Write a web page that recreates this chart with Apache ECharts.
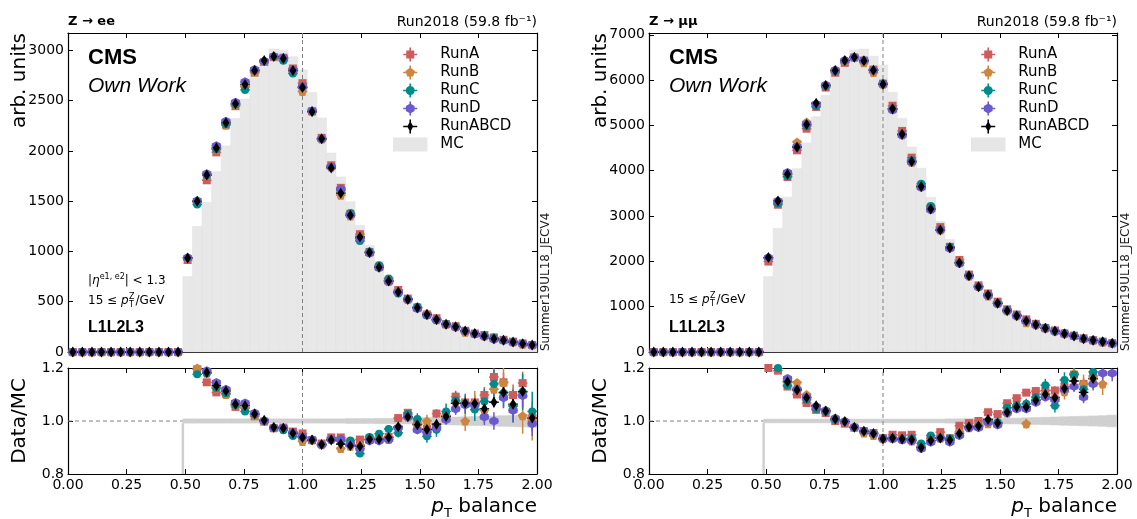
<!DOCTYPE html>
<html>
<head>
<meta charset="utf-8">
<title>pT balance, Run2018</title>
<script src="https://cdn.jsdelivr.net/npm/echarts@6/dist/echarts.min.js"></script>
<style>
html, body { margin: 0; padding: 0; background: #fff; }
#chart { width: 1137px; height: 519px; }
</style>
</head>
<body>
<div id="chart"></div>
<script>
// binning: 49 bins between 0 and 2, the first 12 bins are empty
const nBins = 49
const xMax = 2
const firstBin = 12
const binWidth = xMax / nBins
const runNames = ['RunA', 'RunB', 'RunC', 'RunD', 'RunABCD']

// ---- Z -> ee (left), values from bin 12 on ----
const mcL = [750, 1248, 1490, 1792, 2050, 2322, 2516, 2729, 2891, 3014, 3002, 2937, 2806, 2580, 2328, 1980, 1741, 1494, 1260, 1063, 905, 754, 610, 515, 446, 385, 327, 272, 234, 197, 172, 153, 124, 106, 94, 75, 69]
const runAL = [915, 1491, 1708, 1986, 2261, 2445, 2637, 2778, 2885, 2933, 2927, 2820, 2674, 2394, 2130, 1857, 1633, 1374, 1172, 994, 846, 709, 617, 531, 442, 373, 336, 277, 256, 211, 184, 168, 145, 121, 103, 86, 70]
const runBL = [938, 1498, 1758, 2016, 2255, 2461, 2642, 2784, 2891, 2939, 2912, 2790, 2590, 2394, 2118, 1841, 1560, 1352, 1147, 989, 846, 701, 595, 523, 442, 385, 320, 277, 250, 197, 184, 159, 139, 121, 100, 77, 69]
const runCL = [938, 1468, 1758, 2016, 2265, 2461, 2607, 2797, 2891, 2939, 2897, 2770, 2638, 2394, 2118, 1841, 1610, 1383, 1105, 999, 862, 731, 583, 528, 450, 363, 316, 282, 252, 210, 179, 164, 141, 117, 99, 83, 71]
const runDL = [938, 1504, 1773, 2052, 2296, 2485, 2687, 2811, 2891, 2939, 2927, 2805, 2638, 2399, 2118, 1841, 1619, 1360, 1129, 983, 837, 701, 595, 523, 431, 369, 319, 273, 245, 209, 182, 155, 124, 115, 98, 82, 68]
const abcdL = [935, 1500, 1760, 2030, 2280, 2470, 2660, 2800, 2900, 2940, 2920, 2800, 2630, 2390, 2120, 1830, 1580, 1360, 1143, 990, 843, 707, 597, 523, 440, 373, 323, 277, 250, 210, 183, 160, 133, 117, 100, 83, 70]

const ratioAL = [1.22, 1.195, 1.146, 1.108, 1.103, 1.053, 1.048, 1.018, 0.998, 0.973, 0.975, 0.96, 0.953, 0.928, 0.915, 0.938, 0.938, 0.92, 0.93, 0.935, 0.935, 0.94, 1.011, 1.031, 0.99, 0.97, 1.028, 1.02, 1.092, 1.07, 1.07, 1.098, 1.166, 1.146, 1.098, 1.143, 1.01]
const ratioBL = [1.25, 1.2, 1.18, 1.125, 1.1, 1.06, 1.05, 1.02, 1.0, 0.975, 0.97, 0.95, 0.923, 0.928, 0.91, 0.93, 0.896, 0.905, 0.91, 0.93, 0.935, 0.93, 0.975, 1.015, 0.99, 1.0, 0.98, 1.02, 1.07, 1.0, 1.07, 1.04, 1.12, 1.145, 1.06, 1.02, 1.0]
const ratioCL = [1.25, 1.176, 1.18, 1.125, 1.105, 1.06, 1.036, 1.025, 1.0, 0.975, 0.965, 0.943, 0.94, 0.928, 0.91, 0.93, 0.925, 0.926, 0.877, 0.94, 0.952, 0.97, 0.955, 1.026, 1.008, 0.942, 0.967, 1.036, 1.077, 1.065, 1.043, 1.074, 1.14, 1.106, 1.056, 1.11, 1.036]
const ratioDL = [1.25, 1.205, 1.19, 1.145, 1.12, 1.07, 1.068, 1.03, 1.0, 0.975, 0.975, 0.955, 0.94, 0.93, 0.91, 0.93, 0.93, 0.91, 0.896, 0.925, 0.925, 0.93, 0.975, 1.015, 0.966, 0.958, 0.975, 1.005, 1.045, 1.06, 1.06, 1.015, 1.0, 1.088, 1.04, 1.095, 0.99]
const ratioAbcdL = [1.247, 1.205, 1.183, 1.133, 1.113, 1.063, 1.058, 1.026, 1.003, 0.976, 0.973, 0.954, 0.938, 0.928, 0.911, 0.928, 0.913, 0.907, 0.905, 0.931, 0.931, 0.938, 0.978, 1.016, 0.986, 0.968, 0.988, 1.017, 1.067, 1.067, 1.066, 1.046, 1.071, 1.108, 1.063, 1.111, 1.011]

// ratio errors: RunB/RunC, RunA/RunD, RunABCD
const errLowL = [0.008, 0.007, 0.007, 0.006, 0.006, 0.006, 0.006, 0.006, 0.006, 0.006, 0.006, 0.006, 0.007, 0.007, 0.008, 0.008, 0.009, 0.01, 0.011, 0.012, 0.014, 0.015, 0.017, 0.019, 0.021, 0.024, 0.027, 0.03, 0.034, 0.038, 0.043, 0.048, 0.053, 0.058, 0.063, 0.068, 0.074]
const errMidL = [0.005, 0.005, 0.004, 0.004, 0.004, 0.004, 0.004, 0.004, 0.004, 0.004, 0.004, 0.004, 0.004, 0.005, 0.005, 0.005, 0.006, 0.006, 0.007, 0.008, 0.009, 0.01, 0.011, 0.012, 0.014, 0.015, 0.017, 0.019, 0.022, 0.024, 0.027, 0.03, 0.033, 0.036, 0.04, 0.043, 0.047]
const errAllL = [0.003, 0.003, 0.003, 0.003, 0.003, 0.003, 0.003, 0.003, 0.003, 0.003, 0.003, 0.003, 0.003, 0.003, 0.003, 0.003, 0.004, 0.004, 0.004, 0.005, 0.005, 0.006, 0.007, 0.007, 0.008, 0.009, 0.01, 0.011, 0.013, 0.014, 0.016, 0.017, 0.019, 0.021, 0.023, 0.025, 0.027]
// MC stat. band half width
const bandL = [0.008, 0.008, 0.008, 0.008, 0.008, 0.008, 0.008, 0.008, 0.008, 0.008, 0.008, 0.008, 0.008, 0.008, 0.008, 0.008, 0.008, 0.009, 0.009, 0.009, 0.01, 0.01, 0.011, 0.011, 0.012, 0.013, 0.013, 0.014, 0.015, 0.016, 0.017, 0.018, 0.019, 0.02, 0.021, 0.022, 0.024]

// ---- Z -> mumu (right) ----
const mcR = [1663, 2731, 3417, 4046, 4614, 5190, 5666, 6163, 6446, 6667, 6687, 6527, 6335, 5733, 5157, 4524, 4057, 3410, 2878, 2482, 2069, 1723, 1470, 1250, 1083, 883, 762, 650, 559, 475, 426, 361, 307, 265, 222, 188, 160]
const runAR = [1996, 3250, 3861, 4451, 4928, 5408, 5836, 6163, 6382, 6500, 6433, 6233, 5923, 5435, 4879, 4289, 3672, 3188, 2757, 2321, 2032, 1709, 1470, 1291, 1111, 942, 828, 720, 622, 530, 475, 408, 361, 302, 260, 229, 195]
const runBR = [2079, 3332, 3930, 4633, 5075, 5475, 5893, 6212, 6433, 6507, 6386, 6168, 5911, 5360, 4796, 4185, 3651, 3154, 2691, 2308, 1986, 1680, 1448, 1238, 1072, 909, 800, 644, 604, 523, 464, 401, 362, 302, 258, 214, 194]
const runCR = [2079, 3277, 3878, 4532, 4983, 5424, 5864, 6194, 6433, 6507, 6433, 6220, 5923, 5366, 4806, 4230, 3712, 3222, 2691, 2321, 1955, 1680, 1441, 1250, 1078, 927, 808, 692, 609, 539, 451, 417, 361, 297, 263, 229, 195]
const runDR = [2079, 3332, 3964, 4532, 5029, 5475, 5893, 6225, 6433, 6507, 6433, 6220, 5911, 5343, 4786, 4185, 3631, 3137, 2691, 2283, 1955, 1680, 1433, 1244, 1067, 909, 796, 679, 598, 518, 460, 404, 347, 289, 253, 222, 189]
const abcdR = [2083, 3334, 3923, 4519, 5020, 5491, 5881, 6212, 6433, 6507, 6426, 6220, 5911, 5366, 4806, 4203, 3651, 3158, 2694, 2303, 1972, 1685, 1442, 1258, 1074, 912, 802, 684, 603, 523, 464, 405, 353, 294, 258, 228, 192]

const ratioAR = [1.2, 1.19, 1.13, 1.1, 1.068, 1.042, 1.03, 1.0, 0.99, 0.975, 0.962, 0.955, 0.935, 0.948, 0.946, 0.948, 0.905, 0.935, 0.958, 0.935, 0.982, 0.992, 1.0, 1.033, 1.026, 1.067, 1.086, 1.107, 1.113, 1.115, 1.115, 1.13, 1.175, 1.14, 1.17, 1.22, 1.22]
const ratioBR = [1.25, 1.22, 1.15, 1.145, 1.1, 1.055, 1.04, 1.008, 0.998, 0.976, 0.955, 0.945, 0.933, 0.935, 0.93, 0.925, 0.9, 0.925, 0.935, 0.93, 0.96, 0.975, 0.985, 0.99, 0.99, 1.03, 1.05, 0.99, 1.08, 1.1, 1.09, 1.11, 1.18, 1.14, 1.16, 1.14, 1.21]
const ratioCR = [1.25, 1.2, 1.135, 1.12, 1.08, 1.045, 1.035, 1.005, 0.998, 0.976, 0.962, 0.953, 0.935, 0.936, 0.932, 0.935, 0.915, 0.945, 0.935, 0.935, 0.945, 0.975, 0.98, 1.0, 0.995, 1.05, 1.06, 1.065, 1.09, 1.135, 1.058, 1.155, 1.175, 1.12, 1.185, 1.22, 1.22]
const ratioDR = [1.25, 1.22, 1.16, 1.12, 1.09, 1.055, 1.04, 1.01, 0.998, 0.976, 0.962, 0.953, 0.933, 0.932, 0.928, 0.925, 0.895, 0.92, 0.935, 0.92, 0.945, 0.975, 0.975, 0.995, 0.985, 1.03, 1.045, 1.045, 1.07, 1.09, 1.08, 1.12, 1.13, 1.09, 1.14, 1.18, 1.18]
const ratioAbcdR = [1.253, 1.221, 1.148, 1.117, 1.088, 1.058, 1.038, 1.008, 0.998, 0.976, 0.961, 0.953, 0.933, 0.936, 0.932, 0.929, 0.9, 0.926, 0.936, 0.928, 0.953, 0.978, 0.981, 1.006, 0.992, 1.033, 1.053, 1.053, 1.078, 1.101, 1.088, 1.123, 1.151, 1.108, 1.16, 1.213, 1.205]

const errLowR = [0.006, 0.005, 0.005, 0.004, 0.004, 0.004, 0.004, 0.004, 0.004, 0.004, 0.004, 0.004, 0.004, 0.005, 0.005, 0.005, 0.006, 0.006, 0.007, 0.008, 0.009, 0.01, 0.011, 0.012, 0.014, 0.015, 0.017, 0.019, 0.021, 0.024, 0.026, 0.029, 0.032, 0.035, 0.038, 0.042, 0.046]
const errMidR = [0.004, 0.003, 0.003, 0.003, 0.003, 0.003, 0.003, 0.003, 0.003, 0.003, 0.003, 0.003, 0.003, 0.003, 0.003, 0.003, 0.004, 0.004, 0.005, 0.005, 0.006, 0.006, 0.007, 0.008, 0.009, 0.01, 0.011, 0.012, 0.014, 0.015, 0.017, 0.019, 0.021, 0.023, 0.025, 0.027, 0.03]
const errAllR = [0.002, 0.002, 0.002, 0.002, 0.002, 0.002, 0.002, 0.002, 0.002, 0.002, 0.002, 0.002, 0.002, 0.002, 0.002, 0.002, 0.003, 0.003, 0.003, 0.003, 0.004, 0.004, 0.004, 0.005, 0.005, 0.006, 0.006, 0.007, 0.008, 0.009, 0.01, 0.011, 0.012, 0.013, 0.014, 0.015, 0.017]
const bandR = [0.007, 0.007, 0.007, 0.007, 0.007, 0.007, 0.007, 0.007, 0.007, 0.007, 0.007, 0.007, 0.007, 0.007, 0.007, 0.007, 0.007, 0.007, 0.007, 0.008, 0.008, 0.009, 0.009, 0.01, 0.01, 0.011, 0.011, 0.012, 0.013, 0.014, 0.015, 0.016, 0.017, 0.018, 0.019, 0.02, 0.022]

// axis ranges
const yMaxL = 3173
const yMaxR = 7040
const ratioMin = 0.8
const ratioMax = 1.2

// ---- styles ----
const font = 'DejaVu Sans'
const mcColor = '#e8e8e8'
const bandColor = '#d0d0d0'
const cross = 'M0,6.2H14V7.8H0Z M6.2,0H7.8V14H6.2Z '
const shapes = {
  RunA: { color: '#cd5c5c', symbol: 'rect', size: [8, 8], icon: 'M3,3H11V11H3Z' },
  RunB: { color: '#cd853f', symbol: 'path://M7,2L11.76,5.45L9.94,11.05L4.06,11.05L2.24,5.45Z', size: [9, 9], icon: 'M7,2L11.76,5.45L9.94,11.05L4.06,11.05L2.24,5.45Z' },
  RunC: { color: '#008b8b', symbol: 'circle', size: 8, icon: 'M7,2.5A4.5,4.5,0,1,1,6.99,2.5Z' },
  RunD: { color: '#6a5acd', symbol: 'path://M7,2L11.33,4.5L11.33,9.5L7,12L2.67,9.5L2.67,4.5Z', size: [9, 9], icon: 'M7,2L11.33,4.5L11.33,9.5L7,12L2.67,9.5L2.67,4.5Z' },
  RunABCD: { color: '#000000', symbol: 'path://M7,1L10,7L7,13L4,7Z', size: [7, 11], icon: 'M7,1.5L10,7L7,12.5L4,7Z' }
}

const binCenters = []
for (let k = 0; k < nBins; k++) binCenters.push((k + 0.5) * binWidth)

// upper panel points, empty bins drawn at zero
const countPoints = vals => binCenters.map((x, k) => [x, k < firstBin ? 0 : vals[k - firstBin], 0])
const ratioPoints = (vals, errs) => vals.map((v, i) => [binCenters[i + firstBin], v, errs[i]])
const mcBins = vals => vals.map((v, i) => [(i + firstBin) * binWidth, v])

const renderMc = (params, api) => {
  const x0 = api.value(0)
  const p0 = api.coord([x0, 0])
  const p1 = api.coord([x0 + binWidth, api.value(1)])
  return {
    type: 'rect',
    shape: { x: p0[0], y: p1[1], width: p1[0] - p0[0], height: p0[1] - p1[1] },
    style: { fill: mcColor, stroke: '#e0e0e0', lineWidth: 0.5 }
  }
}

const renderBand = (params, api) => {
  const x0 = api.value(0)
  const hw = api.value(1)
  const a = api.coord([x0, 1 + hw])
  const b = api.coord([x0 + binWidth, 1 - hw])
  const children = [{
    type: 'rect',
    shape: { x: a[0], y: a[1], width: b[0] - a[0], height: b[1] - a[1] },
    style: { fill: bandColor, stroke: bandColor, lineWidth: 0.6 }
  }]
  if (params.dataIndex === 0) {
    // step from the empty MC bins up to the band
    const lo = api.coord([x0, ratioMin])
    children.push({
      type: 'line',
      shape: { x1: lo[0], y1: lo[1], x2: lo[0], y2: b[1] },
      style: { stroke: bandColor, lineWidth: 2.5 }
    })
  }
  return { type: 'group', children }
}

const renderErr = (params, api) => {
  const x = api.value(0)
  const y = api.value(1)
  const e = api.value(2)
  const l = api.coord([x - binWidth / 2, y])
  const r = api.coord([x + binWidth / 2, y])
  const style = { stroke: api.visual('color'), lineWidth: 1.5 }
  const children = [{ type: 'line', shape: { x1: l[0], y1: l[1], x2: r[0], y2: r[1] }, style }]
  if (e > 0) {
    const t = api.coord([x, y + e])
    const b = api.coord([x, y - e])
    children.push({ type: 'line', shape: { x1: t[0], y1: t[1], x2: b[0], y2: b[1] }, style })
  }
  return { type: 'group', children }
}

// ---- axes ----
const axisLine = { show: true, onZero: false, lineStyle: { color: '#000', width: 1.2 } }
const axisTick = { show: true, inside: true, length: 5, lineStyle: { color: '#000', width: 1 } }
const labelStyle = { fontFamily: font, fontSize: 14, color: '#000' }

const xAxes = []
const yAxes = []
const addAxes = (gridIndex, yMax, yInterval, isRatio) => {
  xAxes.push({
    type: 'value', gridIndex, position: 'bottom', min: 0, max: xMax, interval: 0.25,
    axisLine, axisTick, splitLine: { show: false },
    axisLabel: isRatio ? { ...labelStyle, margin: 4, formatter: v => v.toFixed(2) } : { show: false }
  })
  xAxes.push({
    type: 'value', gridIndex, position: 'top', min: 0, max: xMax, interval: 0.25,
    axisLine, axisTick, splitLine: { show: false }, axisLabel: { show: false }
  })
  const yMin = isRatio ? ratioMin : 0
  yAxes.push({
    type: 'value', gridIndex, position: 'left', min: yMin, max: yMax, interval: yInterval,
    axisLine, axisTick, splitLine: { show: false },
    axisLabel: { ...labelStyle, margin: 4, showMaxLabel: isRatio, formatter: v => isRatio ? v.toFixed(1) : String(Math.round(v)) }
  })
  yAxes.push({
    type: 'value', gridIndex, position: 'right', min: yMin, max: yMax, interval: yInterval,
    axisLine, axisTick, splitLine: { show: false }, axisLabel: { show: false }
  })
}
addAxes(0, yMaxL, 500, false)
addAxes(1, ratioMax, 0.2, true)
addAxes(2, yMaxR, 1000, false)
addAxes(3, ratioMax, 0.2, true)

// ---- series ----
const series = []
const onGrid = g => ({ xAxisIndex: 2 * g, yAxisIndex: 2 * g })

const addRun = (g, name, points) => {
  const s = shapes[name]
  series.push({
    type: 'custom', name, ...onGrid(g), renderItem: renderErr, clip: true, silent: true,
    itemStyle: { color: s.color }, encode: { x: 0, y: 1 }, data: points, z: 3
  })
  series.push({
    type: 'scatter', name, ...onGrid(g), symbol: s.symbol, symbolSize: s.size, clip: true, silent: true,
    itemStyle: { color: s.color, opacity: 1 }, data: points.map(p => [p[0], p[1]]), z: 3
  })
}

const dashed = { color: '#808080', width: 1, type: [4, 3] }

const addPanel = (gUp, gRatio, mc, counts, ratios, errs, band, yMax) => {
  series.push({ type: 'custom', name: 'MC', ...onGrid(gUp), renderItem: renderMc, silent: true,
    itemStyle: { color: mcColor }, encode: { x: 0, y: 1 }, data: mcBins(mc), z: 1 })
  series.push({ type: 'line', ...onGrid(gUp), data: [[1, 0], [1, yMax]], symbol: 'none', silent: true,
    lineStyle: dashed, z: 2 })
  runNames.forEach((n, i) => addRun(gUp, n, countPoints(counts[i])))

  // reference line at 1 sits under the MC band
  series.push({ type: 'line', ...onGrid(gRatio), data: [[0, 1], [xMax, 1]], symbol: 'none', silent: true,
    lineStyle: dashed, z: 0 })
  series.push({ type: 'custom', ...onGrid(gRatio), renderItem: renderBand, silent: true, clip: true,
    encode: { x: 0, y: 1 }, data: band.map((hw, i) => [(i + firstBin) * binWidth, hw]), z: 1 })
  series.push({ type: 'line', ...onGrid(gRatio), data: [[1, ratioMin], [1, ratioMax]], symbol: 'none', silent: true,
    lineStyle: dashed, z: 2 })
  runNames.forEach((n, i) => addRun(gRatio, n, ratioPoints(ratios[i], errs[i])))
}

addPanel(0, 1, mcL, [runAL, runBL, runCL, runDL, abcdL],
  [ratioAL, ratioBL, ratioCL, ratioDL, ratioAbcdL], [errMidL, errLowL, errLowL, errMidL, errAllL], bandL, yMaxL)
addPanel(2, 3, mcR, [runAR, runBR, runCR, runDR, abcdR],
  [ratioAR, ratioBR, ratioCR, ratioDR, ratioAbcdR], [errMidR, errLowR, errLowR, errMidR, errAllR], bandR, yMaxR)

// ---- legends ----
const legendData = runNames.map(n => ({ name: n, icon: 'path://' + cross + shapes[n].icon, itemStyle: { color: shapes[n].color } }))
  .concat([{ name: 'MC', icon: 'path://M0,0H32V13H0Z', itemStyle: { color: '#e6e6e6' } }])
const makeLegend = left => ({
  left, top: 47, orient: 'vertical', padding: 0, itemWidth: 50, itemHeight: 14, itemGap: 3,
  selectedMode: false, data: legendData,
  textStyle: { fontFamily: font, fontSize: 15, color: '#000' }
})

// ---- texts ----
const ctx = document.createElement('canvas').getContext('2d')
const measure = (s, f) => { ctx.font = f; return ctx.measureText(s).width }

const txt = (x, y, text, opts = {}) => ({
  type: 'text', x, y, silent: true, rotation: opts.rotation || 0,
  style: {
    text, fill: opts.color || '#000', fontFamily: opts.family || font, fontSize: opts.size || 14,
    fontWeight: opts.weight || 'normal', fontStyle: opts.style || 'normal',
    align: opts.align || 'left', verticalAlign: 'middle', rich: opts.rich
  }
})

const ptCut = (x, y) => {
  const w1 = measure('15 ≤ ', '12px "DejaVu Sans"')
  const w2 = measure('p', 'italic 12px "DejaVu Sans"')
  const ws = measure('Z', '8px "DejaVu Sans"')
  return [
    txt(x, y, '15 ≤ ', { size: 12 }),
    txt(x + w1, y, 'p', { size: 12, style: 'italic' }),
    txt(x + w1 + w2 + 0.5, y - 4, 'Z', { size: 8 }),
    txt(x + w1 + w2 + 0.5, y + 4, 'T', { size: 8 }),
    txt(x + w1 + w2 + ws + 1.5, y, '/GeV', { size: 12 })
  ]
}

const ptTitle = {
  i: { fontFamily: font, fontSize: 20, fontStyle: 'italic', lineHeight: 26 },
  sub: { fontFamily: font, fontSize: 13, verticalAlign: 'bottom', lineHeight: 22 },
  n: { fontFamily: font, fontSize: 20, lineHeight: 26 }
}

const panelTexts = (x0, x1, channel, withEta) => {
  const items = [
    txt(x0, 22, channel, { size: 13, weight: 'bold' }),
    txt(x1, 22, 'Run2018 (59.8 fb⁻¹)', { size: 14, align: 'right' }),
    txt(x0 + 20, 58, 'CMS', { family: 'Liberation Sans', size: 22, weight: 'bold' }),
    txt(x0 + 20, 86, 'Own Work', { family: 'Liberation Sans', size: 21, style: 'italic' }),
    txt(x0 + 20, 328, 'L1L2L3', { family: 'Liberation Sans', size: 16, weight: 'bold' }),
    txt(x1 + 9, 351, 'Summer19UL18_JECV4', { size: 12, rotation: Math.PI / 2, color: '#222' }),
    txt(x1, 507, '{i|p}{sub|T}{n| balance}', { rich: ptTitle, align: 'right' }),
    txt(x0 - 48, 33, 'arb. units', { size: 20, rotation: Math.PI / 2, align: 'right' }),
    txt(x0 - 48, 421, 'Data/MC', { size: 20, rotation: Math.PI / 2, align: 'center' })
  ]
  if (withEta) {
    items.push(txt(x0 + 20, 281, '{n||}{i|η}{sup|e1, e2}{n|| < 1.3}', {
      rich: {
        n: { fontFamily: font, fontSize: 12 },
        i: { fontFamily: font, fontSize: 12, fontStyle: 'italic' },
        sup: { fontFamily: font, fontSize: 8, verticalAlign: 'top', lineHeight: 16 }
      }
    }))
  }
  return items.concat(ptCut(x0 + 20, withEta ? 301 : 300))
}

const chart = echarts.init(document.getElementById('chart'), null, { renderer: 'canvas' })
chart.setOption({
  animation: false,
  backgroundColor: '#fff',
  grid: [
    { left: 68, top: 33, width: 469, height: 319, containLabel: false, outerBoundsMode: 'none' },
    { left: 68, top: 368, width: 469, height: 106, containLabel: false, outerBoundsMode: 'none' },
    { left: 649, top: 33, width: 468, height: 319, containLabel: false, outerBoundsMode: 'none' },
    { left: 649, top: 368, width: 468, height: 106, containLabel: false, outerBoundsMode: 'none' }
  ],
  xAxis: xAxes,
  yAxis: yAxes,
  legend: [makeLegend(393), makeLegend(971)],
  tooltip: { show: false },
  series,
  graphic: panelTexts(68, 537, 'Z → ee', true).concat(panelTexts(649, 1117, 'Z → μμ', false))
})
</script>
</body>
</html>
